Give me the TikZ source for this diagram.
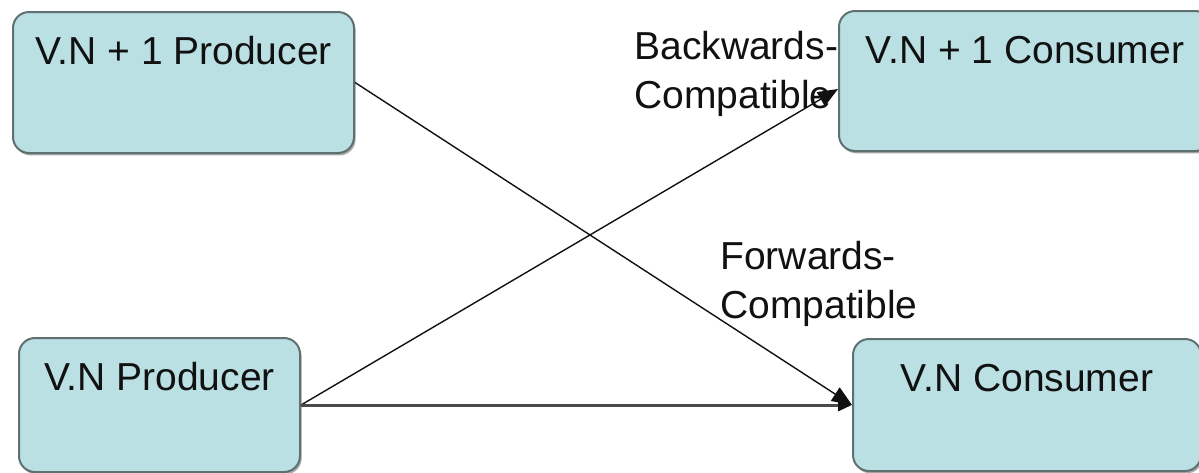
\documentclass[tikz,border=0pt]{standalone}
\usepackage{fontspec}
\setmainfont{Liberation Sans}
\usetikzlibrary{arrows.meta,shadows}
\definecolor{boxfill}{HTML}{BAE0E4}
\definecolor{boxline}{HTML}{5E7070}
\definecolor{ink}{HTML}{111111}
\definecolor{shade}{HTML}{A9A9A9}
\definecolor{inksoft}{HTML}{4A4A4A}

\begin{document}
\begin{tikzpicture}[
  x=0.5pt,y=-0.5pt,
  font=\fontsize{19.5}{24.5}\selectfont,
  box/.style={draw=boxline,line width=1pt,rounded corners=8pt,fill=boxfill,
              drop shadow={shadow xshift=0.8pt,shadow yshift=-1.2pt,fill=shade,opacity=1},
              inner sep=0pt,anchor=north west,align=center,text height=26pt,text=ink},
  note/.style={inner sep=0pt,anchor=north west,align=left,text=ink},
  link/.style={-{Triangle[length=10pt,width=8pt]},draw=ink,line width=0.7pt},
  mainlink/.style={-{Triangle[length=7pt,width=6pt,color=ink]},draw=inksoft,line width=1.5pt},
]
\useasboundingbox (0,0) rectangle (1199,472);

\node[box,minimum width=170.5pt,text depth=44.5pt] (np1prod) at (12,11) {V.N + 1 Producer};
\node[box,minimum width=186pt,text depth=44pt] (np1cons) at (838,10) {V.N + 1 Consumer};
\node[box,minimum width=140.5pt,text depth=41pt] (nprod) at (18,337) {V.N Producer};
\node[box,minimum width=174pt,text depth=40pt] (ncons) at (852,338) {V.N Consumer};

\node[note] (backlbl) at (634,31) {Backwards-\\Compatible};
\node[note] (fwdlbl) at (720,241) {Forwards-\\Compatible};

\draw[link] (np1prod.east) -- (ncons.west);
\draw[link] (nprod.east) -- ([yshift=-4pt]np1cons.west);
\draw[mainlink] (nprod.east) -- (ncons.west);
\end{tikzpicture}
\end{document}
